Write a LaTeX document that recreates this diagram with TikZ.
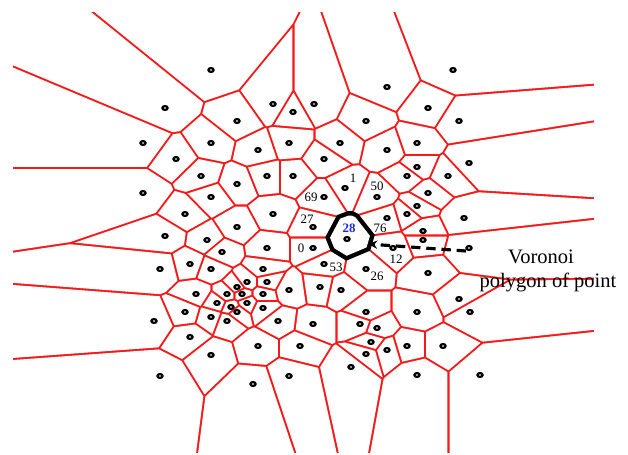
\documentclass[tikz,border=0pt]{standalone}
\usepackage{fontspec}
\setmainfont{Liberation Serif}
\usetikzlibrary{arrows.meta}

\definecolor{cellred}{RGB}{245,25,25}
\definecolor{labelblue}{RGB}{25,40,245}

% generating points, in pixels of the picture (x grows right, y grows down)
\newcommand{\sitelist}{211/70, 165/108, 273/104, 293/112, 314/104, 237/121,
  143/143, 211/143, 258/150, 289/143, 176/159, 201/176, 237/184, 267/176,
  293/176, 143/193, 211/197, 185/214, 273/214, 237/227, 313/227,
  453/70, 387/87, 428/108, 366/121, 459/121, 340/143, 417/143, 387/150,
  324/159, 469/163, 417/167, 407/176, 448/176, 345/188, 377/197, 324/197,
  428/193, 417/206, 407/214, 464/218, 387/218, 423/231, 423/240,
  347/239, 313/248, 393/248, 469/248, 324/264, 366/269, 428/273,
  320/287, 341/290, 459/299, 470/312, 366/312, 417/312, 313/324, 360/324,
  377/328, 371/342, 300/346, 387/350, 407/346, 443/346, 366/354, 351/367,
  417/375, 480/375,
  165/236, 207/240, 222/252, 267/248, 160/269, 190/264, 211/269, 263/269,
  247/282, 267/282, 237/287, 196/294, 227/294, 242/294, 263/294, 289/290,
  217/303, 247/303, 231/307, 237/312, 263/308, 185/312, 211/317, 227/321,
  278/321, 154/321, 190/337, 258/346, 211/355, 160/376, 253/384, 289/376}

% the picture is wider than the data: distances use x/1.22
\newcommand{\kstretch}{1.5}

% clip to the side of #1/#2 on the bisector with #3/#4, moved in by #5
\newcommand{\halfplane}[5]{%
  \pgfmathsetmacro\hpdx{(#3-#1)/\kstretch}%
  \pgfmathsetmacro\hpdy{#4-#2}%
  \pgfmathsetmacro\hplen{veclen(\hpdx,\hpdy)}%
  \pgfmathsetmacro\hpux{\hpdx/\hplen}%
  \pgfmathsetmacro\hpuy{\hpdy/\hplen}%
  \pgfmathsetmacro\hpmx{(#1+#3)/2-#5*\hpux}%
  \pgfmathsetmacro\hpmy{(#2+#4)/2-#5*\hpuy}%
  \clip (\hpmx,\hpmy) -- ++({-900*\hpuy},{900*\hpux})
    -- ++({-900*\hpux},{-900*\hpuy}) -- ++({1800*\hpuy},{-1800*\hpux})
    -- ++({900*\hpux},{900*\hpuy}) -- cycle;%
}

\tikzset{
  site/.style={draw=black, line width=1.9pt, fill=white},
  lbl/.style={font=\fontsize{11}{13}\selectfont, inner sep=0pt},
  note/.style={font=\fontsize{17.5}{20.5}\selectfont, inner sep=0pt},
}

\begin{document}
\begin{tikzpicture}[x=0.03cm, y=-0.03cm]
	\useasboundingbox (0,0) rectangle (628,454);
	
	% Red ground; each cell is cut out of it in white
	\fill[cellred] (13,12) rectangle (594,453);
	\foreach \xa/\ya [count=\i] in \sitelist {
		\begin{scope}
			\foreach \xb/\yb [count=\j] in \sitelist {
				\ifnum\i=\j\relax\else
					\pgfmathparse{abs(\xb-\xa)+abs(\yb-\ya)<230}
					\ifdim\pgfmathresult pt>0.5pt\halfplane{\xa}{\ya}{\xb}{\yb}{1.05}\fi
				\fi
			}
			\fill[white] (13,12) rectangle (594,453);
		\end{scope}
	}
	
	% Thick outline of the polygon of point 28
	\begin{scope}
		\foreach \xb/\yb [count=\j] in \sitelist {
			\ifnum\j=45\relax\else\halfplane{347}{239}{\xb}{\yb}{-2.2}\fi
		}
		\fill[black] (13,12) rectangle (594,453);
	\end{scope}
	\begin{scope}
		\foreach \xb/\yb [count=\j] in \sitelist {
			\ifnum\j=45\relax\else\halfplane{347}{239}{\xb}{\yb}{2.2}\fi
		}
		\fill[white] (13,12) rectangle (594,453);
	\end{scope}
	
	% The points
	\foreach \x/\y in \sitelist {
		\draw[site] (\x,\y) ellipse (2.6 and 1.9);
	}
	
	% Point numbers
	\node[lbl] (n1) at (353,178) {1};
	\node[lbl] (n50) at (377,186) {50};
	\node[lbl] (n69) at (311,197) {69};
	\node[lbl] (n27) at (307,219) {27};
	\node[lbl, text=labelblue, font=\fontsize{11}{13}\selectfont\bfseries] (n28) at (349,228) {28};
	\node[lbl] (n76) at (380,228) {76};
	\node[lbl] (n0) at (301,248) {0};
	\node[lbl] (n12) at (396,259) {12};
	\node[lbl] (n53) at (336,267) {53};
	\node[lbl] (n26) at (377,276) {26};
	
	% Dashed arrow pointing at the polygon
	\coordinate (arrowstart) at (466,251);
	\coordinate (arrowtip) at (368,244);
	\draw[line width=2.7pt, dash pattern=on 8pt off 5pt, -{Stealth[length=8pt, width=7pt]}] (arrowstart) -- (arrowtip);
	
	\node[note, anchor=base] (vor1) at (541,263) {Voronoi};
	\node[note, anchor=base] (vor2) at (548,287) {polygon of point};
	
\end{tikzpicture}
\end{document}
